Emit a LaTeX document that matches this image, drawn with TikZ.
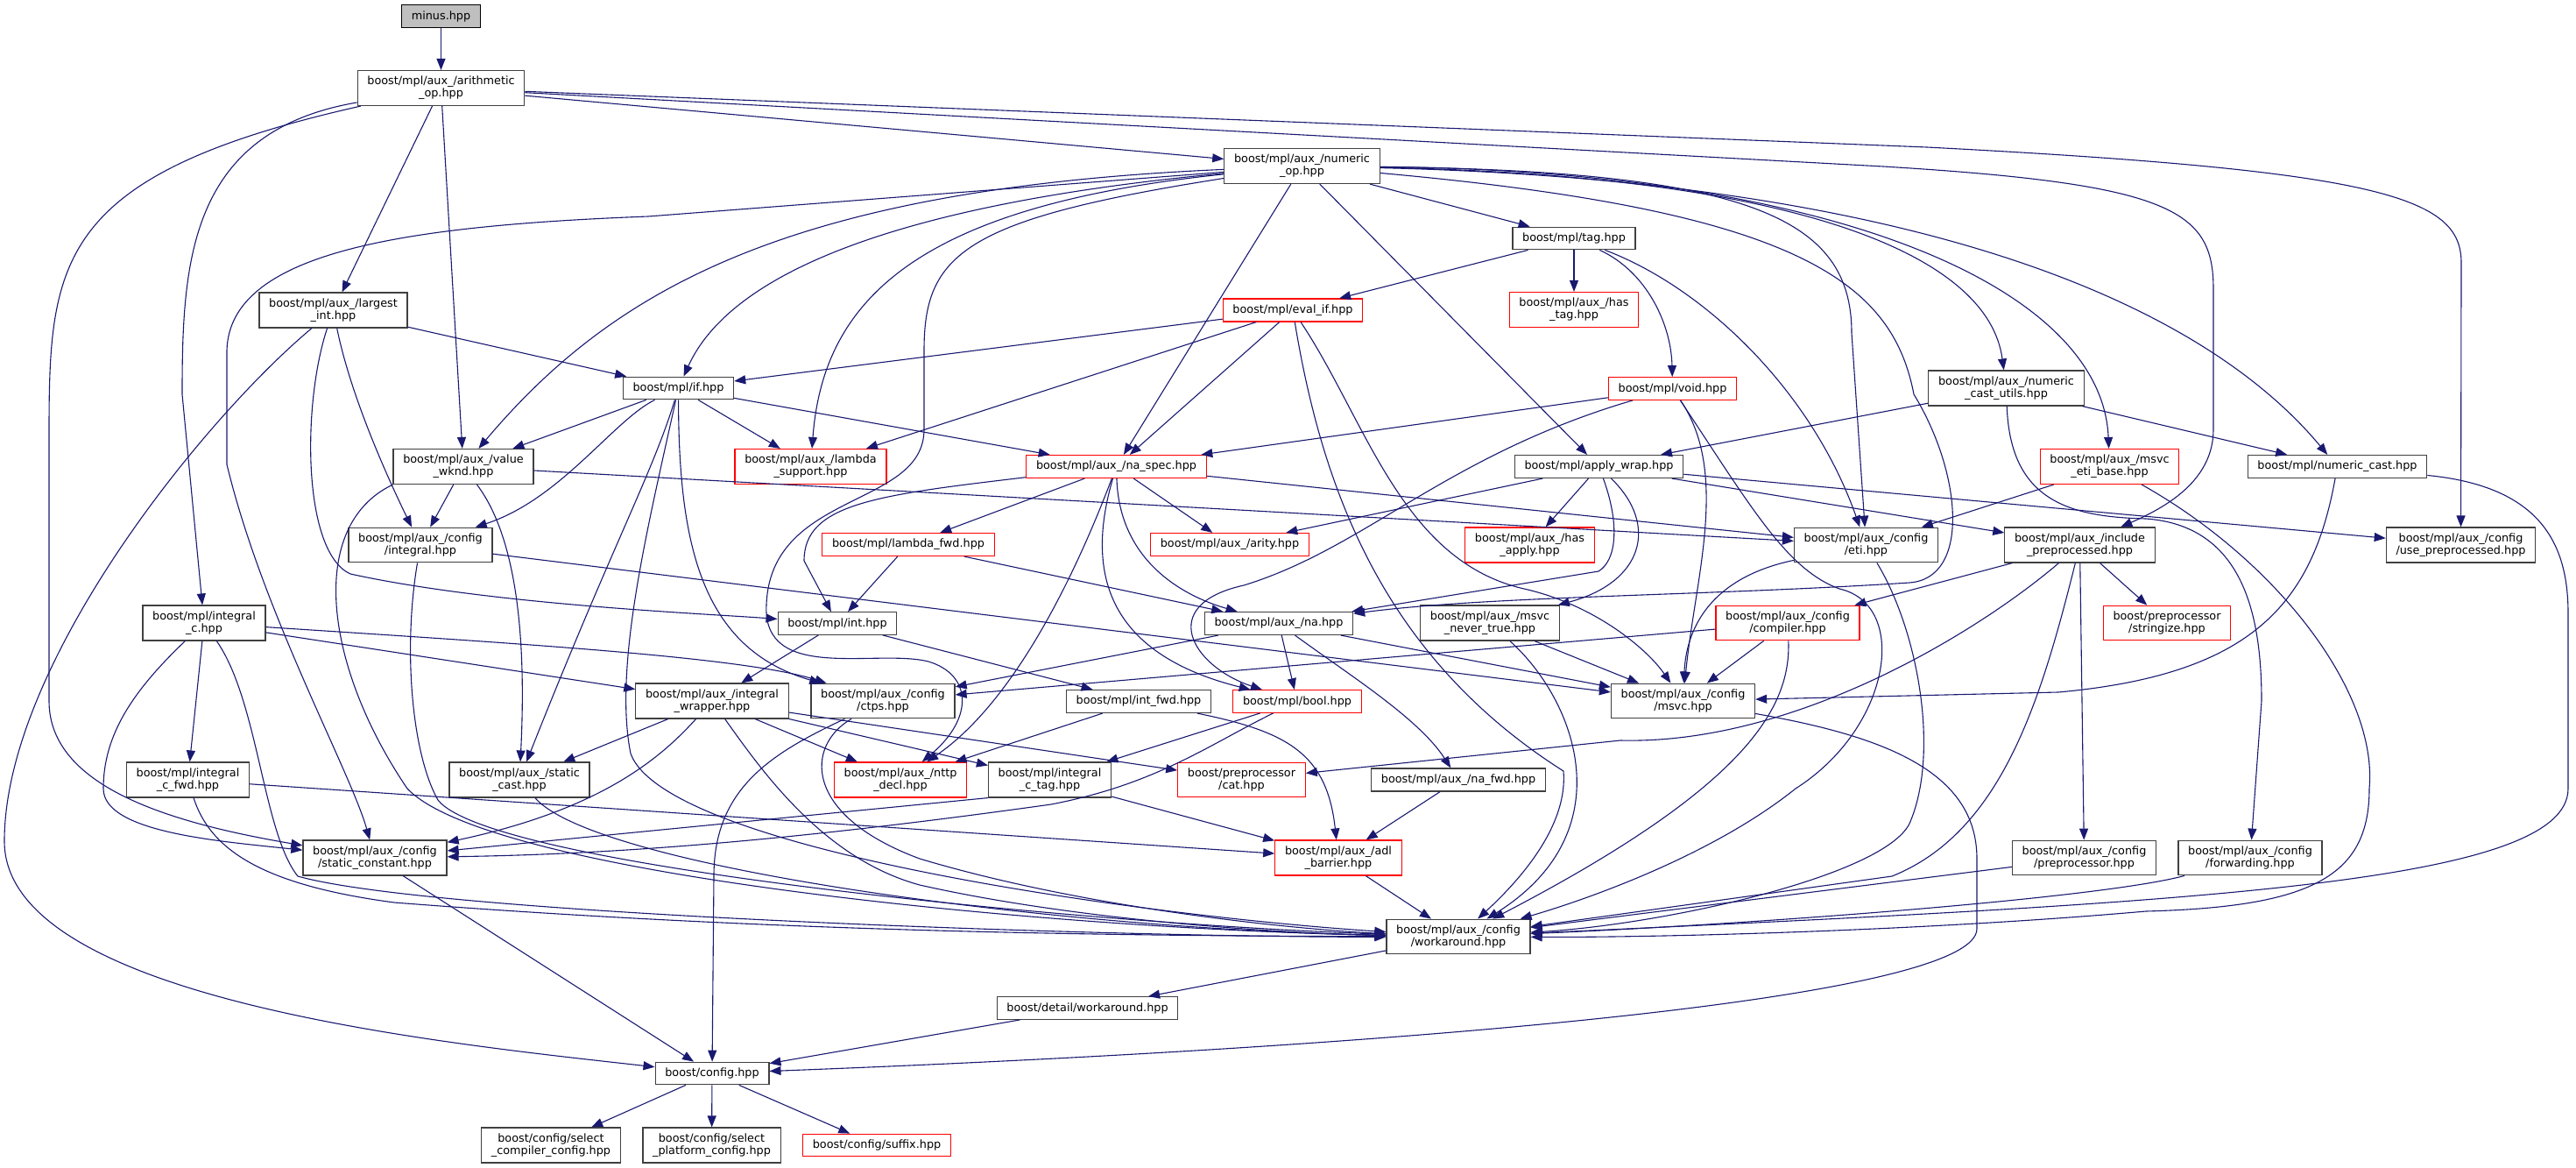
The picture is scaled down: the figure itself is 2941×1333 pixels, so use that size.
\documentclass[tikz,border=0pt]{standalone}
\usepackage{fontspec}
\setmainfont{DejaVu Sans}
\usetikzlibrary{arrows.meta}
\definecolor{edgeblue}{HTML}{191970}
\definecolor{rootfill}{HTML}{BFBFBF}
\definecolor{boxline}{HTML}{404040}

\begin{document}
\begin{tikzpicture}[x=0.5pt,y=-0.5pt,
    object/.style={draw=boxline,line width=0.6pt,fill=white,align=center,inner xsep=5.6pt,inner ysep=3.3pt,minimum height=12.5pt,font=\fontsize{6.4}{7}\selectfont},
    truncated/.style={object,draw=red},
    root/.style={object,draw=black,fill=rootfill},
    arrow/.style={-{Triangle[length=6.5pt,width=5pt]},edgeblue,line width=0.55pt}]
  \useasboundingbox (0,0) rectangle (2941,1333);

  \node[root] (minus) at (503.5,18.5) {minus.hpp};
  \node[object] (arithmetic op) at (503.5,100.5) {boost/mpl/aux\_/arithmetic\\\_op.hpp};
  \node[object] (numeric op) at (1486.5,189.5) {boost/mpl/aux\_/numeric\\\_op.hpp};
  \node[object] (largest int) at (380.5,354) {boost/mpl/aux\_/largest\\\_int.hpp};
  \node[object] (tag) at (1797,272) {boost/mpl/tag.hpp};
  \node[truncated] (eval if) at (1476,354) {boost/mpl/eval\_if.hpp};
  \node[truncated] (has tag) at (1797,353.5) {boost/mpl/aux\_/has\\\_tag.hpp};
  \node[truncated] (void) at (1909.5,443.5) {boost/mpl/void.hpp};
  \node[object] (numeric cast utils) at (2290.5,443) {boost/mpl/aux\_/numeric\\\_cast\_utils.hpp};
  \node[object] (if) at (774.5,443) {boost/mpl/if.hpp};
  \node[truncated] (lambda support) at (925.5,532.5) {boost/mpl/aux\_/lambda\\\_support.hpp};
  \node[truncated] (na spec) at (1274.5,532.5) {boost/mpl/aux\_/na\_spec.hpp};
  \node[object] (value wknd) at (529,532.5) {boost/mpl/aux\_/value\\\_wknd.hpp};
  \node[object] (apply wrap) at (1825.5,532.5) {boost/mpl/apply\_wrap.hpp};
  \node[truncated] (msvc eti base) at (2408.5,532.5) {boost/mpl/aux\_/msvc\\\_eti\_base.hpp};
  \node[object] (numeric cast) at (2668.5,532.5) {boost/mpl/numeric\_cast.hpp};
  \node[object] (config integral) at (480,622) {boost/mpl/aux\_/config\\/integral.hpp};
  \node[truncated] (lambda fwd) at (1037,621.5) {boost/mpl/lambda\_fwd.hpp};
  \node[truncated] (arity) at (1404,621.5) {boost/mpl/aux\_/arity.hpp};
  \node[truncated] (has apply) at (1746.5,622) {boost/mpl/aux\_/has\\\_apply.hpp};
  \node[object] (eti) at (2130.5,622) {boost/mpl/aux\_/config\\/eti.hpp};
  \node[object] (include preprocessed) at (2374.5,622) {boost/mpl/aux\_/include\\\_preprocessed.hpp};
  \node[object] (use preprocessed) at (2809.5,622) {boost/mpl/aux\_/config\\/use\_preprocessed.hpp};
  \node[object] (integral c) at (233,711) {boost/mpl/integral\\\_c.hpp};
  \node[object] (int) at (956,711.5) {boost/mpl/int.hpp};
  \node[object] (na) at (1460,711.5) {boost/mpl/aux\_/na.hpp};
  \node[object] (msvc never true) at (1701,711) {boost/mpl/aux\_/msvc\\\_never\_true.hpp};
  \node[truncated] (compiler) at (2041,711) {boost/mpl/aux\_/config\\/compiler.hpp};
  \node[truncated] (stringize) at (2474,711) {boost/preprocessor\\/stringize.hpp};
  \node[object] (integral wrapper) at (813,800) {boost/mpl/aux\_/integral\\\_wrapper.hpp};
  \node[object] (ctps) at (1008,800) {boost/mpl/aux\_/config\\/ctps.hpp};
  \node[object] (int fwd) at (1300,800.5) {boost/mpl/int\_fwd.hpp};
  \node[truncated] (bool) at (1481,800.5) {boost/mpl/bool.hpp};
  \node[object] (msvc) at (1921.5,800) {boost/mpl/aux\_/config\\/msvc.hpp};
  \node[object] (integral c fwd) at (214.5,890) {boost/mpl/integral\\\_c\_fwd.hpp};
  \node[object] (static cast) at (593,890) {boost/mpl/aux\_/static\\\_cast.hpp};
  \node[truncated] (nttp decl) at (1028,890) {boost/mpl/aux\_/nttp\\\_decl.hpp};
  \node[object] (integral c tag) at (1198.5,890) {boost/mpl/integral\\\_c\_tag.hpp};
  \node[truncated] (cat) at (1417.5,890) {boost/preprocessor\\/cat.hpp};
  \node[object] (na fwd) at (1665,890) {boost/mpl/aux\_/na\_fwd.hpp};
  \node[object] (static constant) at (428,979) {boost/mpl/aux\_/config\\/static\_constant.hpp};
  \node[truncated] (adl barrier) at (1528,979) {boost/mpl/aux\_/adl\\\_barrier.hpp};
  \node[object] (preprocessor) at (2379.5,979) {boost/mpl/aux\_/config\\/preprocessor.hpp};
  \node[object] (forwarding) at (2569,979) {boost/mpl/aux\_/config\\/forwarding.hpp};
  \node[object] (config workaround) at (1665,1069) {boost/mpl/aux\_/config\\/workaround.hpp};
  \node[object] (detail workaround) at (1241.5,1150.5) {boost/detail/workaround.hpp};
  \node[object] (config) at (813,1225) {boost/config.hpp};
  \node[object] (select compiler) at (629,1307) {boost/config/select\\\_compiler\_config.hpp};
  \node[object] (select platform) at (812.5,1307) {boost/config/select\\\_platform\_config.hpp};
  \node[truncated] (suffix) at (1001,1307) {boost/config/suffix.hpp};

  \draw[arrow] (minus) -- (arithmetic op);
  \draw[arrow] (arithmetic op) -- (numeric op);
  \draw[arrow] (arithmetic op) -- (largest int);
  \draw[arrow] (arithmetic op) -- (value wknd);
  \draw[arrow] (arithmetic op) .. controls (215,150) and (208,300) .. (208,450) -- (integral c);
  \draw[arrow] (arithmetic op) .. controls (60,200) and (56,300) .. (56,500) -- (56,800) .. controls (56,900) and (200,940) .. (static constant);
  \draw[arrow] (arithmetic op) -- (2150,190) .. controls (2480,210) and (2527,240) .. (2527,330) -- (2527,490) .. controls (2527,550) and (2470,580) .. (include preprocessed);
  \draw[arrow] (arithmetic op) -- (2200,168) .. controls (2720,195) and (2810,225) .. (2810,300) -- (use preprocessed);

  \draw[arrow] (numeric op) -- (740,247) .. controls (450,258) and (262,290) .. (259,400) -- (259,530) .. controls (300,700) and (400,880) .. (static constant);
  \draw[arrow] (numeric op) .. controls (900,215) and (700,330) .. (value wknd);
  \draw[arrow] (numeric op) .. controls (1000,235) and (830,320) .. (if);
  \draw[arrow] (numeric op) .. controls (1050,235) and (940,340) .. (lambda support);
  \draw[arrow] (numeric op) .. controls (1100,250) and (1055,290) .. (1055,400) -- (1055,490) .. controls (1055,580) and (880,560) .. (875,690) .. controls (870,780) and (1000,740) .. (1060,755) .. controls (1110,770) and (1112,820) .. (nttp decl);
  \draw[arrow] (numeric op) -- (na spec);
  \draw[arrow] (numeric op) -- (apply wrap);
  \draw[arrow] (numeric op) -- (tag);
  \draw[arrow] (numeric op) .. controls (2000,195) and (2114,250) .. (2114,380) -- (eti);
  \draw[arrow] (numeric op) .. controls (2050,240) and (2160,320) .. (2185,450) .. controls (2240,540) and (2250,660) .. (2180,665) .. controls (1950,680) and (1700,680) .. (na);
  \draw[arrow] (numeric op) .. controls (2050,200) and (2270,290) .. (numeric cast utils);
  \draw[arrow] (numeric op) .. controls (2100,195) and (2400,330) .. (msvc eti base);
  \draw[arrow] (numeric op) .. controls (2150,205) and (2500,330) .. (numeric cast);

  \draw[arrow] (tag) -- (eval if);
  \draw[arrow] (tag) -- (has tag);
  \draw[arrow] (tag) .. controls (1880,310) and (1908,370) .. (void);
  \draw[arrow] (tag) .. controls (1950,330) and (2070,450) .. (eti);

  \draw[arrow] (eval if) -- (if);
  \draw[arrow] (eval if) -- (lambda support);
  \draw[arrow] (eval if) -- (na spec);
  \draw[arrow] (eval if) .. controls (1560,480) and (1600,640) .. (1740,672) .. controls (1820,690) and (1880,740) .. (msvc);
  \draw[arrow] (eval if) .. controls (1510,560) and (1580,750) .. (1785,880) .. controls (1790,940) and (1740,1000) .. (config workaround);

  \draw[arrow] (void) -- (na spec);
  \draw[arrow] (void) .. controls (1650,520) and (1560,625) .. (1420,668) .. controls (1320,690) and (1360,760) .. (bool);
  \draw[arrow] (void) .. controls (1975,540) and (1935,660) .. (msvc);
  \draw[arrow] (void) .. controls (2000,580) and (2040,650) .. (2100,672) .. controls (2180,690) and (2160,830) .. (2050,900) .. controls (1950,980) and (1800,1030) .. (config workaround);

  \draw[arrow] (numeric cast utils) -- (apply wrap);
  \draw[arrow] (numeric cast utils) -- (numeric cast);
  \draw[arrow] (numeric cast utils) .. controls (2295,570) and (2360,590) .. (2450,592) .. controls (2560,600) and (2582,700) .. (2582,800) -- (forwarding);

  \draw[arrow] (if) -- (value wknd);
  \draw[arrow] (if) .. controls (700,480) and (640,570) .. (config integral);
  \draw[arrow] (if) .. controls (745,540) and (700,620) .. (static cast);
  \draw[arrow] (if) .. controls (775,620) and (800,740) .. (ctps);
  \draw[arrow] (if) -- (lambda support);
  \draw[arrow] (if) -- (na spec);
  \draw[arrow] (if) .. controls (740,600) and (700,760) .. (720,860) .. controls (760,970) and (1300,1045) .. (config workaround);

  \draw[arrow] (largest int) -- (if);
  \draw[arrow] (largest int) .. controls (230,480) and (5,760) .. (5,960) .. controls (5,1140) and (500,1190) .. (config);
  \draw[arrow] (largest int) .. controls (345,460) and (345,630) .. (400,655) .. controls (560,690) and (800,700) .. (int);
  \draw[arrow] (largest int) .. controls (400,450) and (440,540) .. (config integral);

  \draw[arrow] (value wknd) -- (config integral);
  \draw[arrow] (value wknd) .. controls (595,620) and (600,750) .. (static cast);
  \draw[arrow] (value wknd) -- (eti);
  \draw[arrow] (value wknd.south west) .. controls (350,600) and (370,760) .. (465,900) .. controls (560,1000) and (1200,1060) .. (config workaround);

  \draw[arrow] (config integral) -- (msvc);
  \draw[arrow] (config integral) .. controls (460,740) and (470,860) .. (500,913) .. controls (560,990) and (1250,1055) .. (config workaround);

  \draw[arrow] (integral c) -- (integral c fwd);
  \draw[arrow] (integral c) .. controls (150,790) and (118,840) .. (118,900) .. controls (118,950) and (250,960) .. (static constant);
  \draw[arrow] (integral c) -- (integral wrapper);
  \draw[arrow] (integral c) .. controls (600,735) and (850,750) .. (ctps);
  \draw[arrow] (integral c) .. controls (295,800) and (300,950) .. (340,1000) .. controls (500,1045) and (1300,1070) .. (config workaround);

  \draw[arrow] (integral c fwd) -- (adl barrier);
  \draw[arrow] (integral c fwd) .. controls (240,970) and (300,1010) .. (450,1030) .. controls (900,1065) and (1300,1068) .. (config workaround);

  \draw[arrow] (integral wrapper) -- (integral c tag);
  \draw[arrow] (integral wrapper) -- (nttp decl);
  \draw[arrow] (integral wrapper) -- (cat);
  \draw[arrow] (integral wrapper) -- (static cast);
  \draw[arrow] (integral wrapper) .. controls (750,870) and (680,925) .. (static constant);
  \draw[arrow] (integral wrapper) .. controls (870,880) and (940,980) .. (1050,1010) .. controls (1250,1055) and (1500,1066) .. (config workaround);

  \draw[arrow] (int) -- (integral wrapper);
  \draw[arrow] (int) -- (int fwd);

  \draw[arrow] (ctps) .. controls (880,860) and (815,900) .. (815,1000) -- (config);
  \draw[arrow] (ctps) .. controls (920,850) and (915,930) .. (1050,980) .. controls (1250,1040) and (1500,1062) .. (config workaround);

  \draw[arrow] (na) -- (bool);
  \draw[arrow] (na) .. controls (1540,770) and (1620,820) .. (na fwd);
  \draw[arrow] (na) -- (msvc);
  \draw[arrow] (na) -- (ctps);

  \draw[arrow] (na spec) -- (lambda fwd);
  \draw[arrow] (na spec) .. controls (1000,565) and (918,575) .. (918,640) -- (int);
  \draw[arrow] (na spec) .. controls (1230,650) and (1160,800) .. (nttp decl);
  \draw[arrow] (na spec) .. controls (1240,650) and (1260,745) .. (bool);
  \draw[arrow] (na spec) .. controls (1278,640) and (1350,680) .. (na);
  \draw[arrow] (na spec) -- (arity);
  \draw[arrow] (na spec) -- (eti);

  \draw[arrow] (lambda fwd) -- (int);
  \draw[arrow] (lambda fwd) -- (na);

  \draw[arrow] (apply wrap) -- (arity);
  \draw[arrow] (apply wrap) -- (has apply);
  \draw[arrow] (apply wrap) .. controls (1850,600) and (1845,640) .. (1825,652) -- (na);
  \draw[arrow] (apply wrap) .. controls (1895,600) and (1875,665) .. (msvc never true);
  \draw[arrow] (apply wrap) -- (include preprocessed);
  \draw[arrow] (apply wrap) -- (use preprocessed);

  \draw[arrow] (msvc eti base) -- (eti);
  \draw[arrow] (msvc eti base) .. controls (2600,640) and (2715,790) .. (2705,900) .. controls (2705,1000) and (2640,1035) .. (2450,1040) .. controls (2200,1062) and (1900,1070) .. (config workaround);

  \draw[arrow] (numeric cast) .. controls (2640,690) and (2570,770) .. (2350,790) -- (msvc);
  \draw[arrow] (numeric cast) .. controls (2900,555) and (2932,620) .. (2932,700) -- (2932,900) .. controls (2932,1010) and (2500,1030) .. (config workaround);

  \draw[arrow] (include preprocessed) -- (compiler);
  \draw[arrow] (include preprocessed) .. controls (2260,720) and (2050,850) .. (1850,845) -- (cat);
  \draw[arrow] (include preprocessed) .. controls (2330,800) and (2285,950) .. (2160,1000) -- (config workaround);
  \draw[arrow] (include preprocessed) -- (preprocessor);
  \draw[arrow] (include preprocessed) -- (stringize);

  \draw[arrow] (compiler) -- (ctps);
  \draw[arrow] (compiler) -- (msvc);
  \draw[arrow] (compiler) .. controls (2045,810) and (1990,900) .. (config workaround);

  \draw[arrow] (msvc) .. controls (2150,840) and (2257,880) .. (2257,980) -- (2257,1060) .. controls (2257,1140) and (1600,1195) .. (config);

  \draw[arrow] (msvc never true) -- (msvc);
  \draw[arrow] (msvc never true) .. controls (1800,800) and (1855,950) .. (config workaround);

  \draw[arrow] (eti) .. controls (1950,660) and (1925,720) .. (msvc);
  \draw[arrow] (eti) .. controls (2190,720) and (2215,860) .. (2180,940) .. controls (2150,1000) and (1900,1055) .. (config workaround);

  \draw[arrow] (static cast) .. controls (680,990) and (1200,1060) .. (config workaround);

  \draw[arrow] (int fwd) -- (nttp decl);
  \draw[arrow] (int fwd) .. controls (1470,835) and (1515,860) .. (adl barrier);

  \draw[arrow] (bool) -- (integral c tag);
  \draw[arrow] (bool) .. controls (1380,850) and (1320,895) .. (1200,918) .. controls (900,960) and (700,975) .. (static constant);

  \draw[arrow] (integral c tag) -- (adl barrier);
  \draw[arrow] (integral c tag.south west) -- (static constant);

  \draw[arrow] (na fwd) -- (adl barrier);
  \draw[arrow] (adl barrier) -- (config workaround);
  \draw[arrow] (preprocessor) -- (config workaround);
  \draw[arrow] (forwarding) .. controls (2400,1025) and (2000,1055) .. (config workaround);

  \draw[arrow] (static constant) -- (config);
  \draw[arrow] (config workaround) -- (detail workaround);
  \draw[arrow] (detail workaround) -- (config);
  \draw[arrow] (config) -- (select compiler);
  \draw[arrow] (config) -- (select platform);
  \draw[arrow] (config) -- (suffix);
\end{tikzpicture}
\end{document}
